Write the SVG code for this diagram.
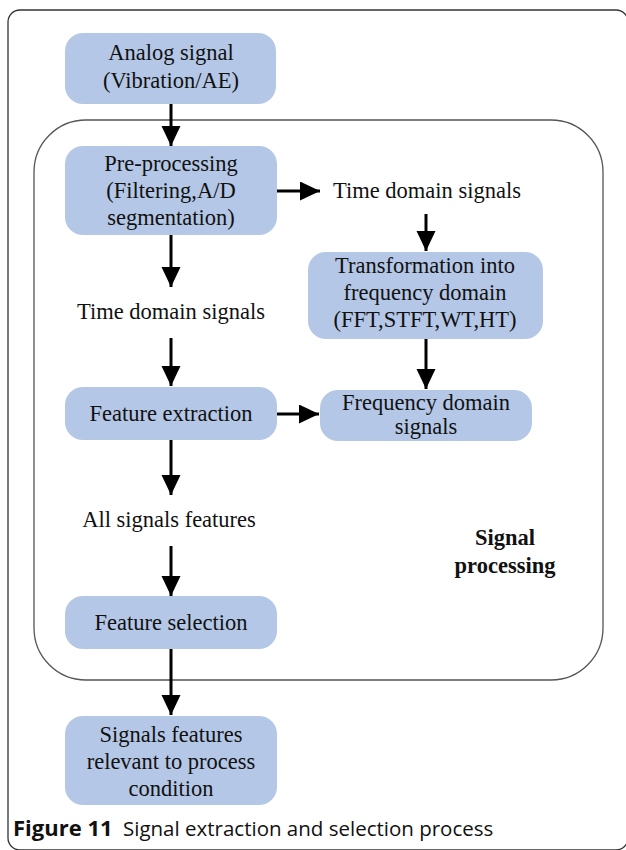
<svg xmlns="http://www.w3.org/2000/svg" width="626" height="850" viewBox="0 0 626 850">
  <style>
    .box { fill: #b4c7e6; }
    .lbl { font-family: "Liberation Serif", "Times New Roman", serif; font-size: 22.5px; fill: #111; text-anchor: middle; }
    .bold { font-weight: bold; }
    .edge { stroke: #000; stroke-width: 3; fill: none; marker-end: url(#head); }
    .cap { font-family: "Open Sans", "Noto Sans", sans-serif; fill: #111; }
  </style>
  <defs>
    <marker id="head" markerUnits="userSpaceOnUse" markerWidth="20" markerHeight="20" refX="20" refY="9.5" orient="auto">
      <path d="M0,0 L20,9.5 L0,19 z" fill="#000"/>
    </marker>
  </defs>

  <rect width="626" height="850" fill="#fff"/>
  <!-- figure frame -->
  <rect x="8" y="10" width="620" height="840" rx="12" fill="none" stroke="#333" stroke-width="1.3"/>
  <!-- signal processing region -->
  <g id="signal-processing">
    <rect x="34" y="120" width="569" height="560" rx="52" fill="none" stroke="#555" stroke-width="1.3"/>
    <text class="lbl bold" x="505" y="545">Signal</text>
    <text class="lbl bold" x="505" y="573">processing</text>
  </g>

  <g id="analog">
    <rect class="box" x="65" y="33" width="211" height="71" rx="18"/>
    <text class="lbl" x="171" y="60">Analog signal</text>
    <text class="lbl" x="171" y="88">(Vibration/AE)</text>
  </g>

  <g id="preprocessing">
    <rect class="box" x="65" y="146" width="212" height="89" rx="18"/>
    <text class="lbl" x="171" y="171">Pre-processing</text>
    <text class="lbl" x="171" y="198">(Filtering,A/D</text>
    <text class="lbl" x="171" y="225">segmentation)</text>
  </g>

  <g id="time-domain-right">
    <text class="lbl" x="427" y="198">Time domain signals</text>
  </g>

  <g id="transformation">
    <rect class="box" x="308" y="252" width="235" height="87" rx="18"/>
    <text class="lbl" x="425" y="273">Transformation into</text>
    <text class="lbl" x="425" y="300">frequency domain</text>
    <text class="lbl" x="425" y="327">(FFT,STFT,WT,HT)</text>
  </g>

  <g id="frequency-domain">
    <rect class="box" x="320" y="390" width="212" height="51" rx="18"/>
    <text class="lbl" x="426" y="410">Frequency domain</text>
    <text class="lbl" x="426" y="434">signals</text>
  </g>

  <g id="time-domain-left">
    <text class="lbl" x="171" y="319">Time domain signals</text>
  </g>

  <g id="feature-extraction">
    <rect class="box" x="65" y="387" width="212" height="53" rx="18"/>
    <text class="lbl" x="171" y="421">Feature extraction</text>
  </g>

  <g id="all-features">
    <text class="lbl" x="169" y="527">All signals features</text>
  </g>

  <g id="feature-selection">
    <rect class="box" x="65" y="596" width="212" height="53" rx="18"/>
    <text class="lbl" x="171" y="630">Feature selection</text>
  </g>

  <g id="relevant-features">
    <rect class="box" x="65" y="716" width="212" height="89" rx="18"/>
    <text class="lbl" x="171" y="742">Signals features</text>
    <text class="lbl" x="171" y="769">relevant to process</text>
    <text class="lbl" x="171" y="796">condition</text>
  </g>

  <g id="connectors">
    <line class="edge" x1="171" y1="104" x2="171" y2="146"/>
    <line class="edge" x1="277" y1="191" x2="320" y2="191"/>
    <line class="edge" x1="426" y1="214" x2="426" y2="251"/>
    <line class="edge" x1="426" y1="339" x2="426" y2="389"/>
    <line class="edge" x1="171" y1="235" x2="171" y2="287"/>
    <line class="edge" x1="171" y1="338" x2="171" y2="386"/>
    <line class="edge" x1="277" y1="414" x2="319" y2="414"/>
    <line class="edge" x1="171" y1="440" x2="171" y2="495"/>
    <line class="edge" x1="171" y1="546" x2="171" y2="596"/>
    <line class="edge" x1="171" y1="649" x2="171" y2="715"/>
  </g>

  <text class="cap" y="836"><tspan x="13" font-size="22" font-weight="bold">Figure 11</tspan><tspan x="123" font-size="20.5">Signal extraction and selection process</tspan></text>
</svg>
